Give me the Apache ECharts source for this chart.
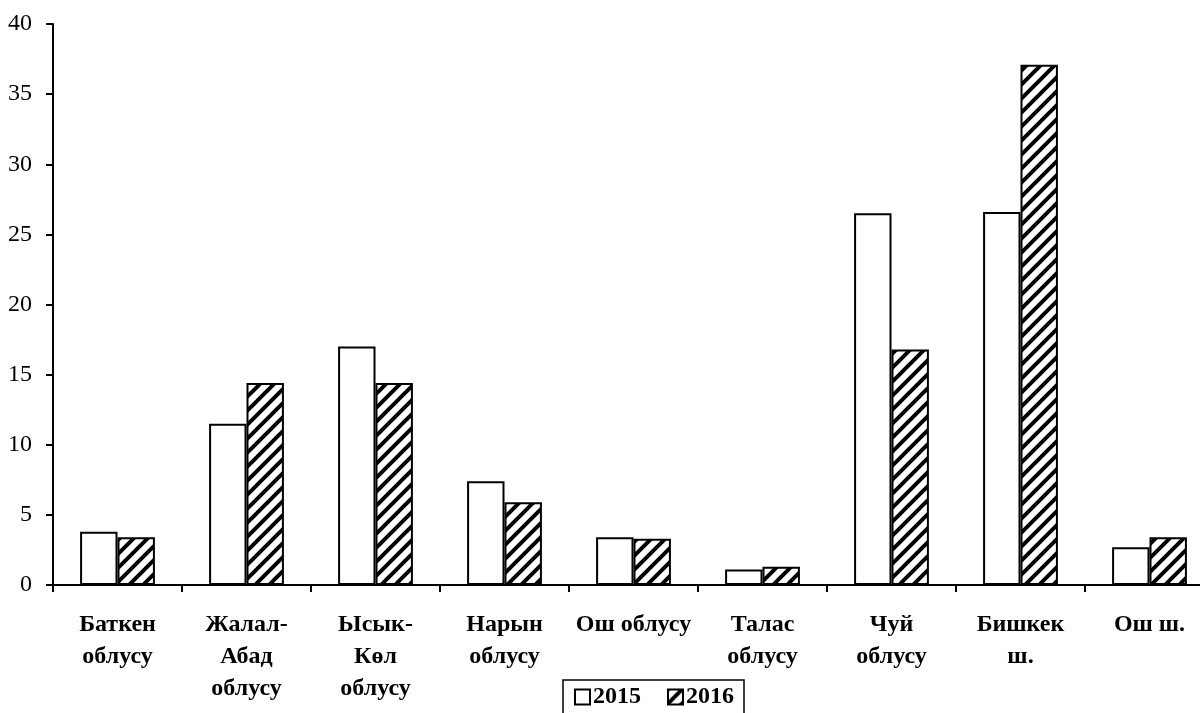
<!DOCTYPE html>
<html>
<head>
<meta charset="utf-8">
<script src="https://cdn.jsdelivr.net/npm/echarts@6/dist/echarts.min.js"></script>
<style>
html,body{margin:0;padding:0;background:#fff;}
#chart{width:1200px;height:713px;}
</style>
</head>
<body>
<div id="chart"></div>
<script>
const categories = ["Баткен\nоблусу", "Жалал-\nАбад\nоблусу", "Ысык-\nКөл\nоблусу", "Нарын\nоблусу", "Ош облусу", "Талас\nоблусу", "Чуй\nоблусу", "Бишкек\nш.", "Ош ш."];
const seriesNames = ["2015", "2016"];
const values2015 = [3.8, 11.5, 17.0, 7.4, 3.4, 1.1, 26.5, 26.6, 2.7];
const values2016 = [3.4, 14.4, 14.4, 5.9, 3.3, 1.3, 16.8, 37.1, 3.4];
const yTicks = { min: 0, max: 40, interval: 5 };

function hatch() {
  const s = 14;
  const c = document.createElement('canvas');
  c.width = s; c.height = s;
  const g = c.getContext('2d');
  g.fillStyle = '#fff';
  g.fillRect(0, 0, s, s);
  g.strokeStyle = '#000';
  g.lineWidth = 4;
  g.beginPath();
  g.moveTo(-2, s + 2); g.lineTo(s + 2, -2);
  g.moveTo(-2, 2); g.lineTo(2, -2);
  g.moveTo(s - 2, s + 2); g.lineTo(s + 2, s - 2);
  g.stroke();
  return c;
}

const font = '"Liberation Serif", "Times New Roman", serif';
const chart = echarts.init(document.getElementById('chart'), null, { renderer: 'canvas' });
chart.setOption({
  animation: false,
  backgroundColor: '#fff',
  grid: { left: 53, top: 24, width: 1161, height: 561, containLabel: false, outerBoundsMode: 'none' },
  legend: {
    top: 680, left: 563,
    data: seriesNames,
    icon: 'rect',
    itemWidth: 15, itemHeight: 15, itemGap: 26,
    padding: [5, 10, 14, 11],
    borderColor: '#000', borderWidth: 1.5,
    textStyle: { fontFamily: font, fontWeight: 'bold', fontSize: 24, color: '#000', padding: [0, 0, 0, -2] }
  },
  xAxis: {
    type: 'category',
    data: categories,
    axisLine: { lineStyle: { color: '#000', width: 2 } },
    axisTick: { show: true, inside: false, length: 7, lineStyle: { color: '#000', width: 2 } },
    axisLabel: { interval: 0, margin: 24, fontFamily: font, fontWeight: 'bold', fontSize: 24, color: '#000', lineHeight: 32 }
  },
  yAxis: {
    type: 'value',
    min: yTicks.min, max: yTicks.max, interval: yTicks.interval,
    splitLine: { show: false },
    axisLine: { show: true, lineStyle: { color: '#000', width: 2 } },
    axisTick: { show: true, length: 7, lineStyle: { color: '#000', width: 2 } },
    axisLabel: { margin: 21, fontFamily: font, fontSize: 24, color: '#000' }
  },
  series: [
    {
      name: seriesNames[0], type: 'bar', data: values2015,
      barGap: '0%', barCategoryGap: '42%',
      itemStyle: { color: '#fff', borderColor: '#000', borderWidth: 2 }
    },
    {
      name: seriesNames[1], type: 'bar', data: values2016,
      barGap: '0%', barCategoryGap: '42%',
      itemStyle: { color: { image: hatch(), repeat: 'repeat' }, borderColor: '#000', borderWidth: 2 }
    }
  ]
});
</script>
</body>
</html>
